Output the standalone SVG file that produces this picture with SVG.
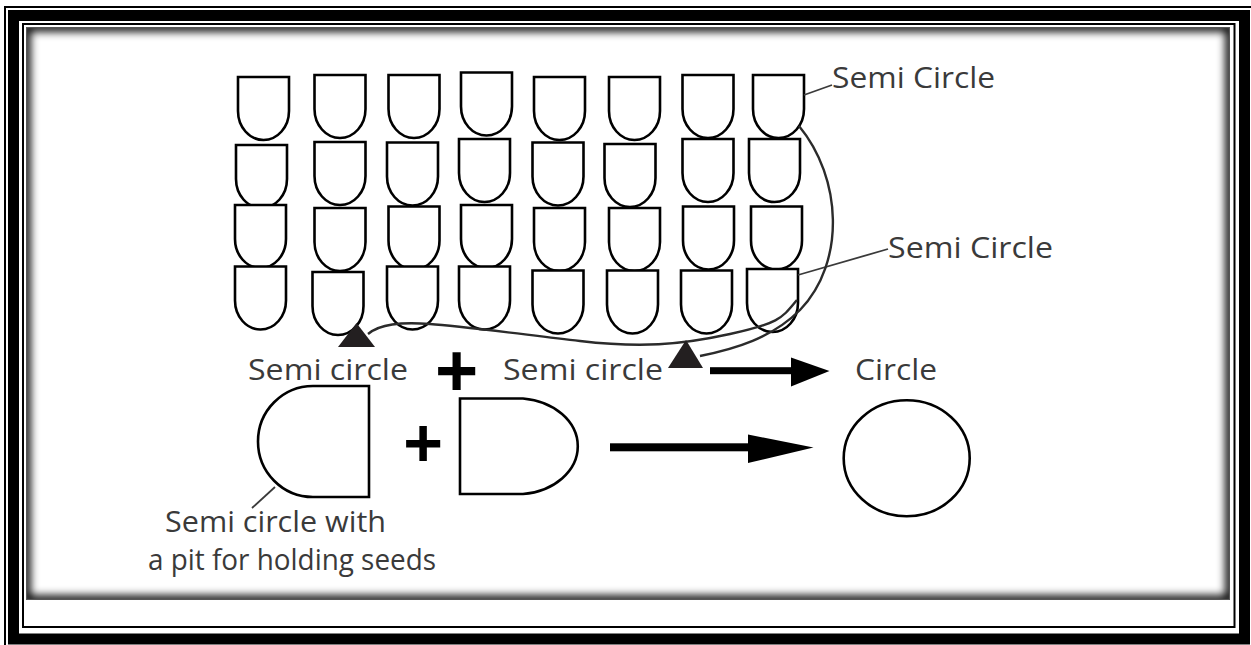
<svg xmlns="http://www.w3.org/2000/svg" xmlns:xlink="http://www.w3.org/1999/xlink" width="1251" height="645" viewBox="0 0 1251 645">
  <style>
    .seg { fill: #ffffff; stroke: #000000; stroke-width: 2.6; stroke-linejoin: miter; }
    .outline { fill: #ffffff; stroke: #000000; stroke-width: 2.6; }
    .label { font-family: "Open Sans", "DejaVu Sans", sans-serif; font-size: 29px; fill: #3a3a3a; }
    .plus { font-family: "Liberation Sans", Arial, sans-serif; font-weight: bold; fill: #000000; text-anchor: middle; }
    .leader { fill: none; stroke: #3a3a3a; stroke-width: 1.8; }
    .curve { fill: none; stroke: #2b2b2b; stroke-width: 2.4; }
    .tri { fill: #231f20; }
    .arrow { fill: #000000; }
  </style>
  <defs>
    <!-- one semicircle cell: flat top, straight sides, rounded bottom -->
    <path id="cell" d="M0,0 H51 V34 A25.5 29 0 0 1 0,34 Z"/>
    <clipPath id="panelClip">
      <rect x="26" y="27" width="1204" height="573"/>
    </clipPath>
    <filter id="soft" x="-5%" y="-5%" width="110%" height="110%">
      <feGaussianBlur stdDeviation="4.5"/>
    </filter>
  </defs>

  <!-- page frame -->
  <g id="frame">
    <rect x="0" y="0" width="1251" height="645" fill="#ffffff"/>
    <rect x="5" y="7" width="1262" height="652" fill="none" stroke="#000" stroke-width="2"/>
    <rect x="13.5" y="15.5" width="1231" height="623.5" fill="none" stroke="#000" stroke-width="11"/>
    <rect x="23" y="24" width="1211.5" height="603" fill="none" stroke="#000" stroke-width="2"/>
    <g clip-path="url(#panelClip)">
      <rect x="26" y="27" width="1204" height="573" fill="#ffffff"/>
      <rect x="26" y="27" width="1204" height="573" fill="none" stroke="#000" stroke-width="9" filter="url(#soft)"/>
      <rect x="26" y="27" width="1204" height="573" fill="none" stroke="#555" stroke-width="2"/>
    </g>
  </g>

  <!-- grid of semicircle cells: 4 rows x 8 columns -->
  <g id="grid">
    <g id="r1c1"><use href="#cell" class="seg" x="238" y="77"/></g>
    <g id="r1c2"><use href="#cell" class="seg" x="314.5" y="75"/></g>
    <g id="r1c3"><use href="#cell" class="seg" x="388.5" y="75"/></g>
    <g id="r1c4"><use href="#cell" class="seg" x="461" y="72.5"/></g>
    <g id="r1c5"><use href="#cell" class="seg" x="534" y="77"/></g>
    <g id="r1c6"><use href="#cell" class="seg" x="609" y="77"/></g>
    <g id="r1c7"><use href="#cell" class="seg" x="682.5" y="75"/></g>
    <g id="r1c8"><use href="#cell" class="seg" x="753" y="75"/></g>

    <g id="r2c1"><use href="#cell" class="seg" x="236" y="145"/></g>
    <g id="r2c2"><use href="#cell" class="seg" x="314.5" y="142"/></g>
    <g id="r2c3"><use href="#cell" class="seg" x="387" y="142.5"/></g>
    <g id="r2c4"><use href="#cell" class="seg" x="459" y="139"/></g>
    <g id="r2c5"><use href="#cell" class="seg" x="532.5" y="142.5"/></g>
    <g id="r2c6"><use href="#cell" class="seg" x="604.5" y="144"/></g>
    <g id="r2c7"><use href="#cell" class="seg" x="682.5" y="139"/></g>
    <g id="r2c8"><use href="#cell" class="seg" x="749" y="139"/></g>

    <g id="r3c1"><use href="#cell" class="seg" x="235" y="205"/></g>
    <g id="r3c2"><use href="#cell" class="seg" x="314.5" y="208"/></g>
    <g id="r3c3"><use href="#cell" class="seg" x="388.5" y="206.5"/></g>
    <g id="r3c4"><use href="#cell" class="seg" x="461" y="205"/></g>
    <g id="r3c5"><use href="#cell" class="seg" x="534" y="208"/></g>
    <g id="r3c6"><use href="#cell" class="seg" x="609" y="208"/></g>
    <g id="r3c7"><use href="#cell" class="seg" x="683" y="206.5"/></g>
    <g id="r3c8"><use href="#cell" class="seg" x="751" y="206.5"/></g>

    <g id="r4c1"><use href="#cell" class="seg" x="235" y="266.5"/></g>
    <g id="r4c2"><use href="#cell" class="seg" x="312.5" y="272"/></g>
    <g id="r4c3"><use href="#cell" class="seg" x="387" y="266.5"/></g>
    <g id="r4c4"><use href="#cell" class="seg" x="459" y="266.5"/></g>
    <g id="r4c5"><use href="#cell" class="seg" x="532.5" y="270.5"/></g>
    <g id="r4c6"><use href="#cell" class="seg" x="607" y="270.5"/></g>
    <g id="r4c7"><use href="#cell" class="seg" x="681" y="270.5"/></g>
    <g id="r4c8"><use href="#cell" class="seg" x="747" y="269"/></g>
  </g>

  <!-- callout labels -->
  <g id="label-top">
    <text class="label" x="832" y="88" textLength="163" lengthAdjust="spacingAndGlyphs">Semi Circle</text>
  </g>
  <g id="label-mid">
    <text class="label" x="888" y="258" textLength="165" lengthAdjust="spacingAndGlyphs">Semi Circle</text>
  </g>

  <!-- equation in words -->
  <g id="word-semi-left">
    <text class="label" x="248" y="380" textLength="160" lengthAdjust="spacingAndGlyphs">Semi circle</text>
  </g>
  <g id="word-plus">
    <text class="plus" x="456.5" y="396" font-size="74">+</text>
  </g>
  <g id="word-semi-right">
    <text class="label" x="503" y="380" textLength="160" lengthAdjust="spacingAndGlyphs">Semi circle</text>
  </g>
  <g id="word-circle">
    <text class="label" x="855" y="380" textLength="82" lengthAdjust="spacingAndGlyphs">Circle</text>
  </g>

  <!-- equation in shapes -->
  <g id="shape-left-half">
    <path class="outline" d="M369,386 H313 A55 55.5 0 0 0 313,497 H369 Z"/>
  </g>
  <g id="shape-plus">
    <text class="plus" x="423" y="466" font-size="68">+</text>
  </g>
  <g id="shape-right-half">
    <path class="outline" d="M460,398.5 H523 A61 48 0 0 1 523,494 H460 Z"/>
  </g>
  <g id="shape-circle">
    <ellipse class="outline" cx="906.7" cy="458.3" rx="63" ry="58"/>
  </g>
  <g id="label-pit">
    <text class="label" x="165" y="532" font-size="28" textLength="221" lengthAdjust="spacingAndGlyphs">Semi circle with</text>
    <text class="label" x="148" y="570" font-size="28" textLength="288" lengthAdjust="spacingAndGlyphs">a pit for holding seeds</text>
  </g>

  <!-- connectors -->
  <g id="connectors">
    <path class="leader" d="M804,95 L832,85"/>
    <path class="leader" d="M798,275 L888,249"/>
    <path class="leader" d="M275,487 L252,508"/>

    <path class="curve" d="M799,126 C842,178 846,262 800,310 C772,338 735,349 700,356"/>
    <path class="curve" d="M368,334 C380,324 400,322 430,324 S520,334 580,341 S680,345 730,334 S782,318 797,300"/>

    <polygon class="tri" points="356.5,323 338,347 375,347"/>
    <polygon class="tri" points="686,340 668,368 703,368"/>

    <rect class="arrow" x="710" y="367.2" width="82" height="7"/>
    <polygon class="arrow" points="791,357.5 829.5,371 791,386.5"/>

    <rect class="arrow" x="610" y="443.3" width="139" height="8"/>
    <polygon class="arrow" points="748,434.5 813.5,447.5 748,463"/>
  </g>
</svg>
